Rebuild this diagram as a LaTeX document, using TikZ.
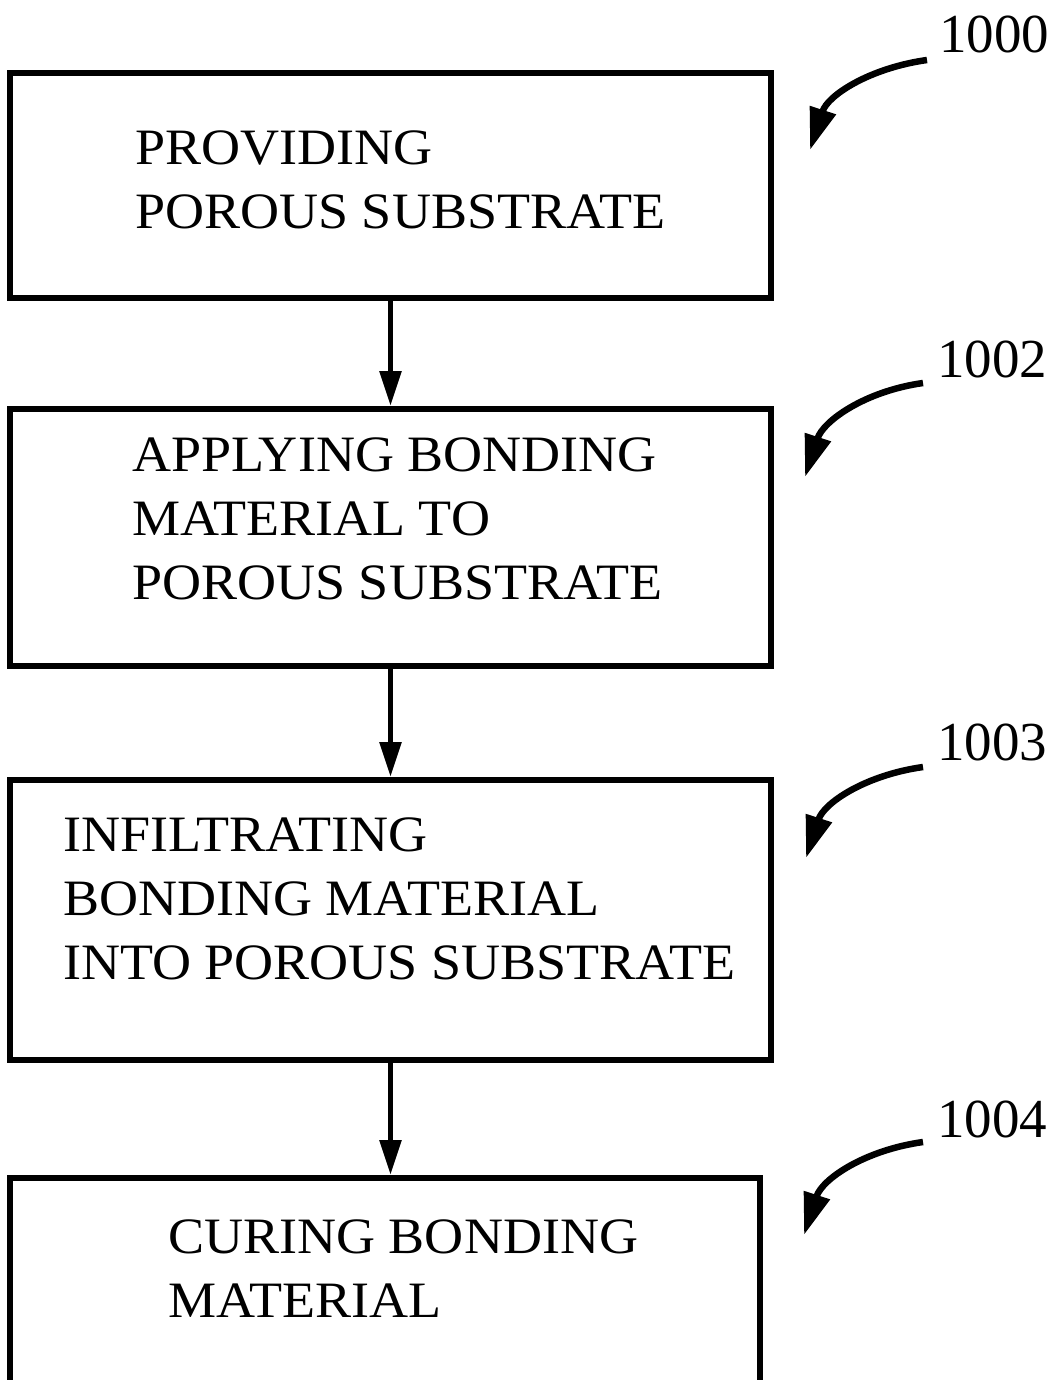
\documentclass[tikz,border=0pt]{standalone}
\usepackage{fontspec}
\setmainfont{Liberation Serif}
\newfontfamily\widefont[FakeStretch=1.06]{Liberation Serif}
\usetikzlibrary{arrows.meta}
\begin{document}
\begin{tikzpicture}[x=1pt, y=1pt,
  stepbox/.style={draw, rectangle, line width=6pt, inner sep=0pt},
  steptext/.style={anchor=north west, inner sep=0pt, align=left, font=\widefont\fontsize{51}{64}\selectfont},
  reflabel/.style={anchor=base west, inner sep=0pt, font=\fontsize{55}{60}\selectfont},
  flowarrow/.style={line width=5.5pt, -{Triangle[length=35pt,width=21pt]}},
  refarrow/.style={line width=6.5pt, -{Triangle[length=42pt,width=26pt]}}]
\useasboundingbox (0,0) rectangle (1053,-1380);
\node[stepbox, minimum width=761pt, minimum height=225pt] (box1) at (390.5,-185.5){};
\node[stepbox, minimum width=761pt, minimum height=257pt] (box2) at (390.5,-537.5){};
\node[stepbox, minimum width=761pt, minimum height=280pt] (box3) at (390.5,-920){};
\node[stepbox, minimum width=750pt, minimum height=242pt] (box4) at (385,-1299){};
\node[steptext] (txt1) at (135,-131){PROVIDING\\POROUS SUBSTRATE};
\node[steptext] (txt2) at (132,-438){APPLYING BONDING\\MATERIAL TO\\POROUS SUBSTRATE};
\node[steptext] (txt3) at (63,-818){INFILTRATING\\BONDING MATERIAL\\INTO POROUS SUBSTRATE};
\node[steptext] (txt4) at (168,-1220){CURING BONDING\\MATERIAL};
\draw[flowarrow] (box1.south) -- (box2.north);
\draw[flowarrow] (box2.south) -- (box3.north);
\draw[flowarrow] (box3.south) -- (box3.south |- box4.north);
\node[reflabel] (ref1000) at (939,-53){1000};
\node[reflabel] (ref1002) at (937,-377){1002};
\node[reflabel] (ref1003) at (937,-760){1003};
\node[reflabel] (ref1004) at (937,-1137){1004};
\coordinate (arr1000s) at (927,-60);
\coordinate (arr1000e) at (810,-150);
\coordinate (arr1002s) at (923,-383);
\coordinate (arr1002e) at (805,-477);
\coordinate (arr1003s) at (923,-767);
\coordinate (arr1003e) at (806,-858);
\coordinate (arr1004s) at (923,-1142);
\coordinate (arr1004e) at (804,-1235);
\draw[refarrow] (arr1000s) to[out=188, in=72] (arr1000e);
\draw[refarrow] (arr1002s) to[out=188, in=72] (arr1002e);
\draw[refarrow] (arr1003s) to[out=188, in=72] (arr1003e);
\draw[refarrow] (arr1004s) to[out=188, in=72] (arr1004e);
\end{tikzpicture}
\end{document}
